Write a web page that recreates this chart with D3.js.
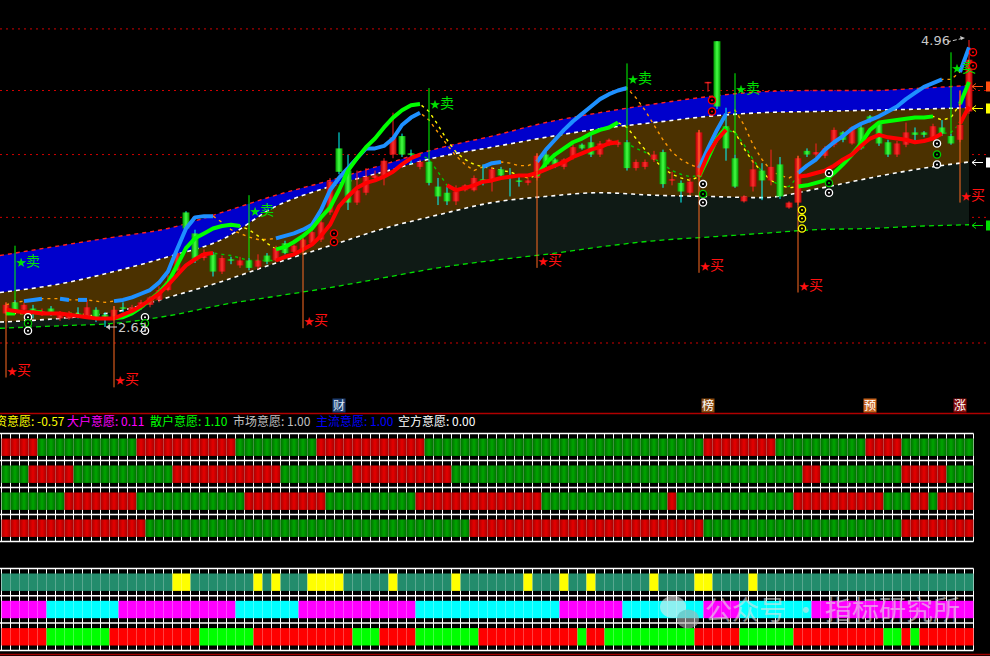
<!DOCTYPE html>
<html><head><meta charset="utf-8">
<script src="https://cdn.jsdelivr.net/npm/d3@7"></script>
<style>html,body{margin:0;padding:0;background:#000;overflow:hidden}svg{display:block}</style>
</head><body>
<svg id="c" width="990" height="656"></svg>
<script>
// ---------- DATA ----------
const opens = [2.74,2.83,2.77,2.78,2.74,2.78,2.70,2.70,2.74,2.72,
2.77,2.73,2.70,2.79,2.74,2.79,2.81,2.85,2.93,3.09,
3.56,3.39,3.19,3.22,3.08,3.18,3.13,3.17,3.12,3.21,
3.17,3.31,3.24,3.26,3.31,3.34,3.56,4.08,3.90,3.64,
3.72,3.84,3.85,4.03,4.18,4.04,3.93,3.97,3.77,3.72,
3.65,3.74,3.74,3.83,3.82,3.91,3.86,3.82,3.80,3.84,
4.03,3.99,3.93,4.01,4.11,4.13,4.03,4.12,4.11,4.13,
3.92,3.93,3.99,4.05,3.82,3.80,3.72,3.85,4.61,4.95,
4.26,4.00,3.65,3.77,3.90,3.82,3.95,3.60,3.64,4.06,
4.03,4.02,4.11,4.21,4.12,4.25,4.34,4.29,4.13,4.03,
4.11,4.21,4.21,4.16,4.25,4.18,4.15,4.38];
const closes = [2.81,2.75,2.81,2.76,2.76,2.74,2.74,2.74,2.72,2.79,
2.69,2.69,2.77,2.78,2.79,2.83,2.87,2.93,3.00,3.23,
3.43,3.17,3.23,3.08,3.19,3.17,3.17,3.11,3.17,3.16,
3.27,3.23,3.29,3.34,3.40,3.48,3.81,3.89,3.64,3.74,
3.85,3.86,3.98,4.17,4.03,4.03,3.97,3.80,3.69,3.65,
3.73,3.78,3.84,3.81,3.91,3.86,3.84,3.81,3.82,4.02,
3.95,3.94,3.99,4.09,4.08,4.03,4.12,4.15,4.13,3.92,
3.97,3.97,4.03,3.79,3.83,3.73,3.81,4.21,4.62,4.42,
4.08,3.77,3.69,3.91,3.82,3.93,3.69,3.64,4.00,4.03,
4.05,4.08,4.23,4.15,4.25,4.08,4.31,4.12,4.03,4.12,
4.21,4.19,4.19,4.26,4.20,4.12,4.27,4.80];
const highs = [2.83,2.85,2.83,2.81,2.78,2.80,2.76,2.76,2.79,2.85,
2.79,2.75,2.80,2.83,2.81,2.85,2.88,2.96,3.05,3.26,
3.57,3.42,3.26,3.24,3.21,3.20,3.20,3.19,3.22,3.23,
3.29,3.33,3.30,3.35,3.43,3.54,3.84,4.21,4.03,3.90,
3.92,3.90,4.00,4.37,4.20,4.07,3.99,3.99,3.84,3.77,
3.78,3.79,3.86,3.95,3.93,3.93,3.92,3.86,3.84,4.04,
4.05,4.00,4.00,4.11,4.12,4.19,4.14,4.16,4.15,4.15,
3.99,3.99,4.06,4.07,3.89,3.82,3.84,4.23,4.62,4.95,
4.41,4.03,3.70,3.99,3.96,4.07,4.01,3.65,4.02,4.08,
4.12,4.10,4.25,4.22,4.26,4.27,4.35,4.30,4.15,4.14,
4.29,4.25,4.22,4.28,4.31,4.20,4.55,4.96];
const lows = [2.73,2.74,2.75,2.70,2.72,2.72,2.68,2.69,2.70,2.70,
2.67,2.63,2.69,2.75,2.73,2.77,2.79,2.83,2.92,3.08,
3.41,3.15,3.17,3.04,3.06,3.14,3.11,3.09,3.10,3.14,
3.16,3.22,3.22,3.24,3.30,3.32,3.54,3.87,3.58,3.62,
3.70,3.82,3.78,4.00,4.01,3.95,3.91,3.78,3.62,3.62,
3.62,3.73,3.73,3.78,3.73,3.84,3.69,3.77,3.78,3.82,
3.93,3.92,3.91,3.99,4.07,4.01,4.01,4.10,4.09,3.90,
3.90,3.91,3.97,3.76,3.78,3.64,3.70,3.82,4.54,4.40,
3.98,3.76,3.64,3.73,3.66,3.78,3.67,3.59,3.62,4.01,
3.99,4.00,4.09,4.13,4.11,4.07,4.29,4.10,4.01,4.01,
4.09,4.13,4.17,4.15,4.18,4.11,4.13,4.36];

const blueLine = [2.81,2.83,2.84,2.85,2.86,2.86,2.86,2.85,2.85,2.85,
2.84,2.83,2.84,2.85,2.87,2.90,2.93,2.99,3.08,3.26,
3.43,3.52,3.53,3.53,3.48,3.42,3.39,3.36,3.34,3.34,
3.35,3.37,3.39,3.42,3.46,3.58,3.74,3.84,3.92,4.00,
4.08,4.08,4.10,4.16,4.27,4.33,4.37,4.31,4.21,4.11,
4.02,3.95,3.90,3.93,3.96,3.97,3.96,3.94,3.94,3.97,
4.07,4.15,4.23,4.30,4.36,4.42,4.48,4.52,4.55,4.57,
4.49,4.39,4.27,4.15,4.05,3.99,3.95,3.92,4.08,4.23,
4.36,4.39,4.27,4.11,3.99,3.90,3.86,3.84,3.88,3.94,
3.99,4.07,4.13,4.18,4.24,4.28,4.31,4.34,4.38,4.42,
4.48,4.53,4.58,4.61,4.64,4.64,4.70,4.90];
const greenLine = [2.74,2.74,2.74,2.75,2.75,2.75,2.74,2.74,2.74,2.73,
2.71,2.70,2.70,2.71,2.74,2.79,2.85,2.91,2.99,3.13,
3.27,3.35,3.39,3.43,3.45,3.46,3.45,3.42,3.37,3.31,
3.26,3.28,3.32,3.37,3.43,3.52,3.60,3.74,3.90,4.00,
4.09,4.16,4.25,4.33,4.39,4.43,4.44,4.38,4.27,4.15,
4.05,3.99,3.95,3.93,3.92,3.90,3.89,3.86,3.84,3.86,
3.96,4.03,4.08,4.13,4.16,4.20,4.23,4.25,4.29,4.25,
4.16,4.07,3.99,3.92,3.87,3.84,3.82,3.85,4.00,4.16,
4.25,4.21,4.08,3.97,3.89,3.82,3.78,3.76,3.77,3.78,
3.80,3.82,3.88,3.95,4.03,4.12,4.23,4.29,4.30,4.31,
4.32,4.33,4.33,4.34,4.31,4.33,4.44,4.62];
const redLine = [2.77,2.76,2.75,2.75,2.74,2.74,2.74,2.73,2.72,2.71,
2.70,2.70,2.70,2.73,2.76,2.80,2.85,2.90,2.97,3.05,
3.13,3.18,3.22,3.23,3.22,3.21,3.19,3.17,3.17,3.17,
3.17,3.20,3.22,3.26,3.30,3.37,3.46,3.61,3.69,3.76,
3.80,3.82,3.85,3.89,3.95,4.00,4.03,3.99,3.89,3.78,
3.74,3.76,3.78,3.81,3.82,3.84,3.85,3.86,3.86,3.88,
3.91,3.94,3.97,4.01,4.04,4.07,4.09,4.12,4.13,4.12,
4.08,4.05,4.00,3.95,3.90,3.87,3.85,3.86,4.03,4.15,
4.23,4.21,4.11,3.99,3.89,3.82,3.78,3.77,3.85,3.86,
3.88,3.90,3.94,3.99,4.03,4.10,4.16,4.19,4.17,4.16,
4.15,4.13,4.14,4.16,4.20,4.21,4.28,4.42];
const blueOn  = [[2,4],[6,7],[8,9],[12,23],[30,46],[53,55],[59,69],[77,80],[88,104],[106,107]];
const greenOn = [[0,1],[3,4],[12,26],[30,46],[59,68],[77,80],[88,103],[106,107]];
const redOn   = [[0,23],[30,46],[49,68],[77,80],[88,104],[106,107]];

const bandIdx    = [0,6,12,18,24,30,36,42,48,54,60,66,72,78,84,90,96,102,107];
const bandTop    = [3.21,3.29,3.36,3.43,3.56,3.70,3.82,3.95,4.08,4.18,4.29,4.37,4.44,4.50,4.54,4.55,4.55,4.57,4.59];
const bandUpper  = [2.91,2.98,3.08,3.20,3.34,3.61,3.77,3.89,4.01,4.09,4.17,4.24,4.29,4.34,4.37,4.38,4.39,4.40,4.41];
const bandLower  = [2.67,2.70,2.75,2.87,3.00,3.15,3.29,3.43,3.54,3.64,3.69,3.72,3.70,3.69,3.68,3.75,3.84,3.92,3.97];
const bandBottom = [2.62,2.64,2.66,2.72,2.81,2.88,2.95,3.03,3.11,3.17,3.22,3.28,3.33,3.36,3.39,3.42,3.43,3.45,3.46];

const levelLines = [5.05,4.55,4.03,3.52,2.50];

const buyIdx  = [0,12,33,59,77,88,106];
const buyEnd  = [2.22,2.14,2.62,3.11,3.07,2.91,3.64];
const sellIdx = [1,27,47,69,81,105];
const sellEnd = [3.29,3.70,4.57,4.77,4.69,4.86];

const circleIdx  = [2,2,2,15,15,15,36,36,77,77,77,78,78,88,88,88,91,91,91,103,103,103,107,107];
const circleVal  = [2.71,2.66,2.60,2.71,2.66,2.60,3.39,3.32,3.79,3.71,3.64,4.47,4.38,3.58,3.51,3.43,3.88,3.80,3.72,4.12,4.03,3.95,4.86,4.75];
const circleKind = ['w','g','w','w','g','w','r','r','w','g','w','r','r','y','y','y','w','g','w','w','g','w','r','r'];

const eventText = ['财','榜','预','涨'];
const eventIdx  = [37,78,96,106];

const wishLabels = ['游资意愿','大户意愿','散户意愿','市场意愿','主流意愿','空方意愿'];
const wishValues = [-0.57,0.11,1.10,1.00,1.00,0.00];

// strips: run lengths, alternating colours starting with the first key
const stripTop1 = {keys:['R','G'], runs:[4,11,11,9,12,31,8,10,4,8]};
const stripTop2 = {keys:['G','R'], runs:[3,5,11,12,8,11,39,2,9,5,3]};
const stripTop3 = {keys:['G','R'], runs:[7,8,12,9,10,14,14,1,13,10,3,2,1,4]};
const stripTop4 = {keys:['R','G'], runs:[16,36,26,22,8]};
const stripBotA = {keys:['T','Y'], runs:[19,2,7,1,1,1,3,4,5,1,6,1,7,1,3,1,2,1,6,1,4,2,4,1,24]};
const stripBotB = {keys:['M','C'], runs:[5,8,13,7,13,16,7,9,4,8,18]};
const stripBotC = {keys:['r','g'], runs:[5,7,10,6,11,3,4,7,11,1,2,10,5,6,10,2,1,1,6]};

// ---------- DRAW ----------
const svg = d3.select('#c');
const N = opens.length;
const FONT = "'Noto Sans CJK SC','Noto Sans',sans-serif";
const xb = d3.scaleBand().domain(d3.range(N)).range([1.5, 973.5]).padding(0);
const cx = i => xb(i) + xb.bandwidth()/2;
const y = d3.scaleLinear().domain([2.63, 4.96]).range([327, 40]);

svg.append('rect').attr('width',990).attr('height',656).attr('fill','#000');

const defs = svg.append('defs');
function grad(id, edge, mid){
  const g = defs.append('linearGradient').attr('id',id).attr('x1','0').attr('x2','1').attr('y1','0').attr('y2','0');
  g.append('stop').attr('offset','0').attr('stop-color',edge);
  g.append('stop').attr('offset','0.5').attr('stop-color',mid);
  g.append('stop').attr('offset','1').attr('stop-color',edge);
}
grad('gRed','#b00000','#ff3030');
grad('gGreen','#009a00','#44ff44');
grad('sRed','#a80000','#e60000');
grad('sGreen','#006e00','#00a600');

defs.append('clipPath').attr('id','pclip').append('rect').attr('x',0).attr('y',0).attr('width',990).attr('height',400);
const P = svg.append('g').attr('clip-path','url(#pclip)');

// level dotted lines
P.selectAll('.lvl').data(levelLines).enter().append('line')
  .attr('x1',0).attr('x2',990).attr('y1',d=>y(d)).attr('y2',d=>y(d))
  .attr('stroke','#d00000').attr('stroke-width',1).attr('stroke-dasharray','2,4');

// bands
const bpts = bandIdx.map((i,k)=>({i, top:bandTop[k], up:bandUpper[k], lo:bandLower[k], bot:bandBottom[k]}));
const bx = (d,k) => k===0 ? xb.range()[0]-1.5 : cx(d.i);
const area = (a,b) => d3.area().x(bx).y0(d=>y(d[b])).y1(d=>y(d[a])).curve(d3.curveMonotoneX);
P.append('path').datum(bpts).attr('d',area('top','up')).attr('fill','#0000cc');
P.append('path').datum(bpts).attr('d',area('up','lo')).attr('fill','#4b3100');
P.append('path').datum(bpts).attr('d',area('lo','bot')).attr('fill','#0f1a15');
const bline = key => d3.line().x(bx).y(d=>y(d[key])).curve(d3.curveMonotoneX);
[['top','#ff2020','4,4',1.4],['up','#ffffff','4,4',1.6],['lo','#ffffff','4,4',1.6],['bot','#00e000','5,4',1.3]].forEach(([k,c,da,w])=>{
  P.append('path').datum(bpts).attr('d',bline(k)).attr('fill','none').attr('stroke',c).attr('stroke-width',w).attr('stroke-dasharray',da);
});

// dashed continuation lines
const lineGen = arr => d3.line().x(i=>cx(i)).y(i=>y(arr[i]));
[[blueLine,'#ff9a00'],[greenLine,'#ffff00'],[redLine,'#00c800']].forEach(([arr,c])=>{
  P.append('path').attr('d',lineGen(arr)(d3.range(N))).attr('fill','none')
    .attr('stroke',c).attr('stroke-width',1.4).attr('stroke-dasharray','3,4');
});

// candles
const cg = P.append('g');
d3.range(N).forEach(i=>{
  const up = closes[i] >= opens[i];
  const x0 = cx(i);
  cg.append('line').attr('x1',x0).attr('x2',x0).attr('y1',y(highs[i])).attr('y2',y(lows[i]))
    .attr('stroke', up ? '#ff2020' : '#00ffff').attr('stroke-width',1);
  const t = y(Math.max(opens[i],closes[i])), b = y(Math.min(opens[i],closes[i]));
  cg.append('rect').attr('x',x0-3.5).attr('width',7).attr('y',t).attr('height',Math.max(1.5,b-t))
    .attr('fill', up ? 'url(#gRed)' : 'url(#gGreen)');
});

// thick lines
[[blueLine,blueOn,'#1e90ff'],[greenLine,greenOn,'#00ff00'],[redLine,redOn,'#ff0000']].forEach(([arr,ranges,c])=>{
  ranges.forEach(([a,b])=>{
    P.append('path').attr('d',lineGen(arr)(d3.range(a,b+1))).attr('fill','none')
      .attr('stroke',c).attr('stroke-width',4).attr('stroke-linejoin','round');
  });
});

// signal label: star + character in one text element
function signalLabel(x0, yb, ch, col){
  const t = P.append('text').attr('x',x0+1).attr('y',yb).attr('fill',col).attr('font-family',FONT);
  t.append('tspan').attr('font-size',10).text('★');
  t.append('tspan').attr('font-size',14).text(ch);
}
// sell signals
sellIdx.forEach((i,k)=>{
  const x0 = cx(i), top = y(sellEnd[k]);
  P.append('line').attr('x1',x0).attr('x2',x0).attr('y1',y(highs[i])).attr('y2',top).attr('stroke','#00ff00').attr('stroke-width',1);
  signalLabel(x0, top+20, '卖', '#00e000');
});
// buy signals
buyIdx.forEach((i,k)=>{
  const x0 = cx(i), bot = y(buyEnd[k]);
  P.append('line').attr('x1',x0).attr('x2',x0).attr('y1',y(highs[i])).attr('y2',bot).attr('stroke','#ff6a20').attr('stroke-width',1);
  signalLabel(x0, bot-3, '买', '#ff1010');
});

// circle icons
const ccol = {w:'#ffffff', g:'#00cc00', y:'#ffff00', r:'#ff0000'};
circleIdx.forEach((i,k)=>{
  const x0 = cx(i)+4, y0 = y(circleVal[k]);
  P.append('circle').attr('cx',x0).attr('cy',y0).attr('r',3.6).attr('fill','#000').attr('stroke',ccol[circleKind[k]]).attr('stroke-width',1.3);
  P.append('circle').attr('cx',x0).attr('cy',y0).attr('r',1).attr('fill',ccol[circleKind[k]]);
});

// max / min labels
const iMax = d3.maxIndex(highs), iMin = d3.minIndex(lows);
{
  const x0 = cx(iMax), y0 = y(highs[iMax]);
  P.append('text').attr('x',x0-48).attr('y',y0+5).attr('font-size',13).attr('fill','#c8c8c8').attr('font-family',"'DejaVu Sans',sans-serif").text(highs[iMax].toFixed(2));
  P.append('line').attr('x1',x0-22).attr('y1',y0+2).attr('x2',x0-5).attr('y2',y0-2).attr('stroke','#c8c8c8').attr('stroke-width',1).attr('stroke-dasharray','4,2');
  P.append('path').attr('d',`M${x0-4},${y0-2}l-5,-2l1,4z`).attr('fill','#c8c8c8');
}
{
  const x0 = cx(iMin), y0 = y(lows[iMin]);
  P.append('line').attr('x1',x0+1).attr('y1',y0).attr('x2',x0+12).attr('y2',y0).attr('stroke','#c8c8c8').attr('stroke-width',1);
  P.append('path').attr('d',`M${x0+1},${y0}l4,-3v6z`).attr('fill','#c8c8c8');
  P.append('text').attr('x',x0+13).attr('y',y0+5).attr('font-size',13).attr('fill','#c8c8c8').attr('font-family',"'DejaVu Sans',sans-serif").text(lows[iMin].toFixed(2));
}

// right-edge band arrows
const last = bpts[bpts.length-1];
[['top','#ff5010'],['up','#ffff00'],['lo','#ffffff'],['bot','#00e000']].forEach(([k,c])=>{
  const yy = Math.round(y(last[k]))+0.5;
  svg.append('line').attr('x1',972).attr('x2',983).attr('y1',yy).attr('y2',yy).attr('stroke',c).attr('stroke-width',1);
  svg.append('path').attr('d',`M972,${yy}l4,-3M972,${yy}l4,3`).attr('stroke',c).attr('stroke-width',1).attr('fill','none');
  svg.append('rect').attr('x',986).attr('y',yy-5).attr('width',5).attr('height',10).attr('fill',c);
});

// separator
svg.append('line').attr('x1',0).attr('x2',990).attr('y1',413.5).attr('y2',413.5).attr('stroke','#b00000').attr('stroke-width',1.5);

// event boxes
const evBg = ['#1d3d70','#8a4a10','#c8641e','#850c0c'];
eventIdx.forEach((i,k)=>{
  const x0 = cx(i);
  svg.append('rect').attr('x',x0-6.5).attr('y',398.5).attr('width',13).attr('height',14).attr('fill',evBg[k]);
  svg.append('text').attr('x',x0).attr('y',410).attr('text-anchor','middle').attr('font-size',12)
    .attr('fill',k===0?'#dce6f5':'#ffffff').attr('font-family',FONT).text(eventText[k]);
});

// wish labels row (first label runs off the left edge, as in the original)
const wishCol = ['#ffff00','#ff00ff','#00ff00','#c0c0c0','#0000ff','#ffffff'];
const wishX = [-17,67,150,233,316,398];
wishLabels.forEach((lab,k)=>{
  svg.append('text').attr('x',wishX[k]).attr('y',426).attr('font-size',12).attr('fill',wishCol[k])
    .attr('font-family',FONT).text(lab + ': ' + wishValues[k].toFixed(2));
});

// strips
function expand(s){ const out=[]; s.runs.forEach((n,k)=>{ for(let j=0;j<n;j++) out.push(s.keys[k%2]); }); return out; }
const stripFill = {R:'url(#sRed)', G:'url(#sGreen)', T:'#238c6c', Y:'#ffff00', M:'#ff00ff', C:'#00ffff', r:'#ff0000', g:'#00ff00'};
function stripGroup(top, rowH, rows){
  const g = svg.append('g');
  const bottom = top + rowH*rows.length;
  d3.range(N+1).forEach(k=>{
    const xx = (k<N? xb(k) : xb.range()[1]);
    g.append('line').attr('x1',xx).attr('x2',xx).attr('y1',top).attr('y2',bottom).attr('stroke','#ffffff').attr('stroke-width',1);
  });
  rows.forEach((s,r)=>{
    const cells = expand(s);
    cells.forEach((key,k)=>{
      g.append('rect').attr('x',xb(k)).attr('width',xb.bandwidth()).attr('y',top+rowH*r+5).attr('height',17.4).attr('fill',stripFill[key]);
    });
  });
  d3.range(rows.length+1).forEach(r=>{
    g.append('line').attr('x1',0).attr('x2',xb.range()[1]).attr('y1',top+rowH*r).attr('y2',top+rowH*r).attr('stroke','#ffffff').attr('stroke-width',1.5);
  });
}
stripGroup(433.5, 27, [stripTop1,stripTop2,stripTop3,stripTop4]);
stripGroup(568.5, 27.3, [stripBotA,stripBotB,stripBotC]);

svg.append('line').attr('x1',0).attr('x2',990).attr('y1',654.5).attr('y2',654.5).attr('stroke','#a00000').attr('stroke-width',1.5);

// watermark
const wm = svg.append('g').attr('opacity',0.6);
wm.append('ellipse').attr('cx',673).attr('cy',607).attr('rx',13).attr('ry',11).attr('fill','#e8e8e8');
wm.append('ellipse').attr('cx',688).attr('cy',619).attr('rx',11).attr('ry',9.5).attr('fill','#b0b0b0');
wm.append('text').attr('x',705).attr('y',620).attr('font-size',27).attr('fill','#e0e0e0').attr('font-family',FONT).text('公众号 · 指标研究所');
</script>
</body></html>
